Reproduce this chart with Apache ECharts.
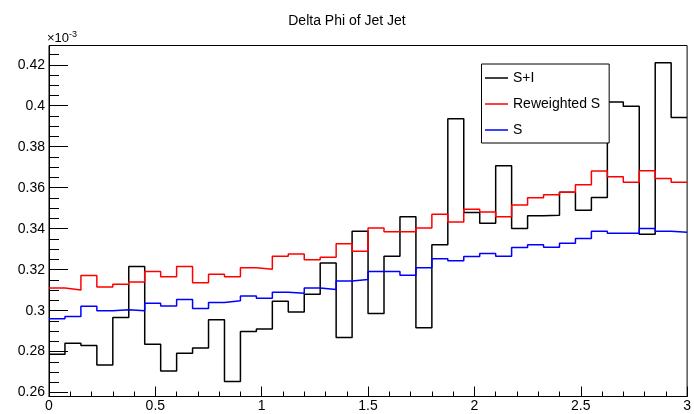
<!DOCTYPE html>
<html><head><meta charset="utf-8">
<script src="https://cdn.jsdelivr.net/npm/echarts@6/dist/echarts.min.js"></script>
<style>html,body{margin:0;padding:0;background:#fff;} #c{width:694px;height:414px;}</style>
</head><body><div id="c"></div>
<script>
// Histogram binning: 40 bins of width 0.075 on [0, 3]
const binLow = 0;
const binWidth = 0.075;

// Bin contents (in units of 1e-3)
const sPlusI = [0.2787, 0.2841, 0.2830, 0.2735, 0.2966, 0.3215, 0.2836, 0.2706, 0.2792, 0.2818,
                0.2955, 0.2654, 0.2898, 0.2911, 0.3046, 0.2993, 0.3080, 0.3233, 0.2869, 0.3388,
                0.2986, 0.3266, 0.3458, 0.2916, 0.3321, 0.3936, 0.3479, 0.3427, 0.3707, 0.3401,
                0.3463, 0.3466, 0.3578, 0.3490, 0.3552, 0.4018, 0.3998, 0.3373, 0.4210, 0.3943];
const reweightedS = [0.3110, 0.3101, 0.3171, 0.3116, 0.3129, 0.3140, 0.3191, 0.3165, 0.3215, 0.3136,
                     0.3178, 0.3165, 0.3209, 0.3202, 0.3266, 0.3277, 0.3248, 0.3261, 0.3326, 0.3290,
                     0.3403, 0.3385, 0.3385, 0.3403, 0.3471, 0.3433, 0.3495, 0.3482, 0.3458, 0.3515,
                     0.3551, 0.3565, 0.3578, 0.3614, 0.3682, 0.3653, 0.3627, 0.3683, 0.3645, 0.3627];
const sOnly = [0.2961, 0.2971, 0.3022, 0.2999, 0.3004, 0.2999, 0.3036, 0.3023, 0.3054, 0.3010,
               0.3040, 0.3048, 0.3072, 0.3061, 0.3090, 0.3085, 0.3110, 0.3103, 0.3145, 0.3152,
               0.3191, 0.3191, 0.3173, 0.3209, 0.3253, 0.3243, 0.3264, 0.3279, 0.3266, 0.3308,
               0.3321, 0.3310, 0.3329, 0.3352, 0.3388, 0.3378, 0.3378, 0.3401, 0.3388, 0.3383];

const seriesNames = ['S+I', 'Reweighted S', 'S'];
const seriesColors = ['#000000', '#ff0000', '#0000ff'];
const xRange = [0, 3];
const xMajorStep = 0.5;
const yRange = [0.2581, 0.4294];

function toStep(vals) {
  const pts = vals.map((v, i) => [binLow + i * binWidth, v]);
  pts.push([binLow + vals.length * binWidth, vals[vals.length - 1]]);
  return pts;
}

const FONT = 'Liberation Sans';
const chart = echarts.init(document.getElementById('c'), null, {renderer: 'canvas'});

const option = {
  animation: false,
  backgroundColor: '#fff',
  title: {
    text: 'Delta Phi of Jet Jet',
    left: 'center', top: 9,
    textStyle: {fontFamily: FONT, fontSize: 14, fontWeight: 'normal', color: '#000'}
  },
  legend: {
    orient: 'vertical',
    left: 481.5, top: 64,
    padding: [7, 9, 6, 3.5],
    itemGap: 12,
    itemWidth: 23, itemHeight: 1.5,
    icon: 'rect',
    backgroundColor: '#fff',
    borderColor: '#000', borderWidth: 1,
    selectedMode: false,
    textStyle: {fontFamily: FONT, fontSize: 14, color: '#000', lineHeight: 14},
    data: seriesNames
  },
  grid: {
    left: 49, right: 5, top: 45.5, bottom: 17.5,
    show: true, borderColor: '#000', borderWidth: 1,
    containLabel: false
  },
  xAxis: {
    type: 'value', min: xRange[0], max: xRange[1], interval: xMajorStep,
    axisLine: {show: true, lineStyle: {color: '#000', width: 1}},
    axisTick: {show: true, inside: true, length: 10, lineStyle: {color: '#000'}},
    minorTick: {show: true, splitNumber: 5, length: 5, lineStyle: {color: '#000'}},
    splitLine: {show: false},
    axisLabel: {fontFamily: FONT, fontSize: 14, color: '#000', margin: 3}
  },
  yAxis: [
    {
      type: 'value', min: yRange[0], max: yRange[1], splitNumber: 8, position: 'left', offset: 0,
      axisLine: {show: true, lineStyle: {color: '#000', width: 1}},
      axisTick: {show: true, inside: true, length: 19, lineStyle: {color: '#000'}},
      splitLine: {show: false},
      axisLabel: {fontFamily: FONT, fontSize: 14, color: '#000', margin: 4,
                  showMinLabel: false, showMaxLabel: false,
                  formatter: v => String(+v.toFixed(3))},
      name: '×10{s|-3}',
      nameLocation: 'end', nameGap: 0,
      nameTextStyle: {
        fontFamily: FONT, fontSize: 13, color: '#000', align: 'left', verticalAlign: 'bottom',
        lineHeight: 16, padding: [0, 0, -1, -2],
        rich: {s: {fontFamily: FONT, fontSize: 9, color: '#000', verticalAlign: 'top', lineHeight: 16}}
      }
    },
    {
      type: 'value', min: yRange[0], max: yRange[1], splitNumber: 34, position: 'left', offset: 0,
      axisLine: {show: false},
      axisTick: {show: true, inside: true, length: 10, lineStyle: {color: '#000'}},
      splitLine: {show: false},
      axisLabel: {show: false}
    }
  ],
  series: [
    {name: seriesNames[0], type: 'line', step: 'end', symbol: 'none', data: toStep(sPlusI),
     lineStyle: {color: seriesColors[0], width: 1.5}, itemStyle: {color: seriesColors[0]}},
    {name: seriesNames[1], type: 'line', step: 'end', symbol: 'none', data: toStep(reweightedS),
     lineStyle: {color: seriesColors[1], width: 1.5}, itemStyle: {color: seriesColors[1]}},
    {name: seriesNames[2], type: 'line', step: 'end', symbol: 'none', data: toStep(sOnly),
     lineStyle: {color: seriesColors[2], width: 1.5}, itemStyle: {color: seriesColors[2]}}
  ]
};
chart.setOption(option);
</script>
</body></html>
